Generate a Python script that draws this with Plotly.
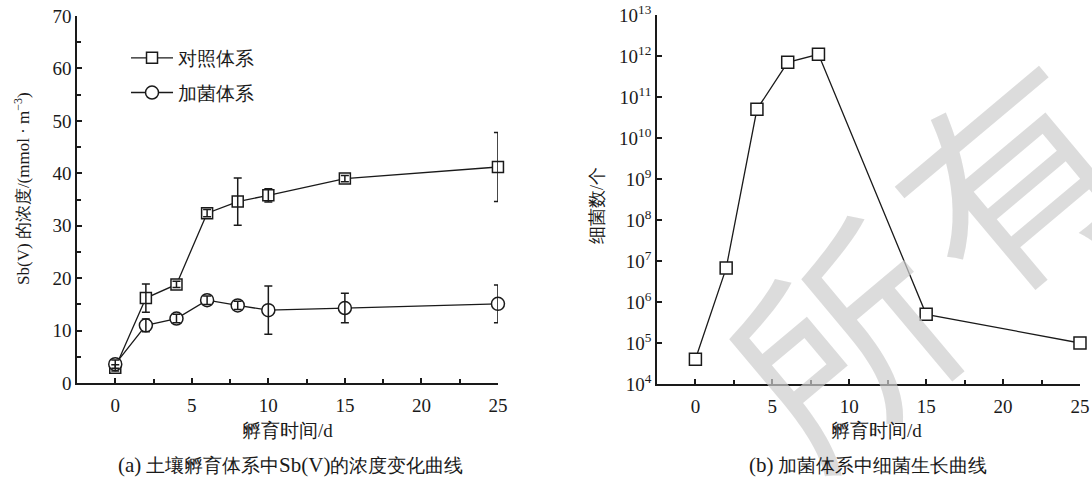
import plotly.graph_objects as go

# ---- data ----
days = [0, 2, 4, 6, 8, 10, 15, 25]
control = [2.9, 16.2, 18.8, 32.4, 34.6, 35.8, 39.0, 41.2]
control_err = [0.6, 2.7, 0.6, 0.7, 4.5, 1.25, 0.6, 6.6]
bact = [3.6, 11.0, 12.3, 15.8, 14.8, 13.9, 14.3, 15.1]
bact_err = [0.8, 1.2, 0.8, 0.8, 0.8, 4.6, 2.8, 3.6]

growth_days = [0, 2, 4, 6, 8, 15, 25]
growth = [4e4, 6.7e6, 5e10, 7e11, 1.1e12, 5e5, 1e5]

x_ticks = [0, 5, 10, 15, 20, 25]
log_tickvals = [1e4, 1e5, 1e6, 1e7, 1e8, 1e9, 1e10, 1e11, 1e12, 1e13]
log_ticktext = ["10<sup>%d</sup>" % e for e in range(4, 14)]

FONT = "Liberation Serif"
BLACK = "#1a1a1a"

fig = go.Figure()

# left chart: lines + markers
fig.add_trace(go.Scatter(
    x=days, y=control, mode="lines+markers", name="对照体系",
    legendgroup="a", cliponaxis=False,
    line=dict(color=BLACK, width=1.3),
    marker=dict(symbol="square", size=11, color="white", line=dict(color=BLACK, width=1.5)),
    xaxis="x", yaxis="y"))
fig.add_trace(go.Scatter(
    x=days, y=bact, mode="lines+markers", name="加菌体系",
    legendgroup="b", cliponaxis=False,
    line=dict(color=BLACK, width=1.3),
    marker=dict(symbol="circle", size=13, color="white", line=dict(color=BLACK, width=1.5)),
    xaxis="x", yaxis="y"))
# error bars drawn on top of the markers
for yy, ee in ((control, control_err), (bact, bact_err)):
    fig.add_trace(go.Scatter(
        x=days, y=yy, mode="markers", showlegend=False, hoverinfo="skip", cliponaxis=False,
        marker=dict(size=1, color="rgba(0,0,0,0)"),
        error_y=dict(type="data", array=ee, visible=True, color=BLACK, thickness=1.5, width=4),
        xaxis="x", yaxis="y"))

# right chart
fig.add_trace(go.Scatter(
    x=growth_days, y=growth, mode="lines+markers", showlegend=False, cliponaxis=False,
    line=dict(color=BLACK, width=1.3),
    marker=dict(symbol="square", size=12, color="white", line=dict(color=BLACK, width=1.5)),
    xaxis="x2", yaxis="y2"))

axis_common = dict(
    showline=True, linecolor=BLACK, linewidth=1.5, mirror=False,
    ticks="inside", ticklen=5, tickwidth=1.5, tickcolor=BLACK,
    showgrid=False, zeroline=False, automargin=False, ticklabeloverflow="allow",
    tickfont=dict(family=FONT, size=19, color=BLACK),
)
minor_x = dict(ticks="inside", dtick=2.5, tick0=0, ticklen=4, tickwidth=1.5, tickcolor=BLACK)

fig.update_layout(
    width=1092, height=481,
    margin=dict(l=0, r=0, t=0, b=0, autoexpand=False),
    paper_bgcolor="white", plot_bgcolor="white",
    font=dict(family=FONT, size=16, color=BLACK),
    xaxis=dict(domain=[0.0705, 0.456], range=[-2.5, 25], tickvals=x_ticks, minor=minor_x,
               ticklabelstandoff=4, anchor="y", **axis_common),
    yaxis=dict(domain=[0.2037, 0.9667], range=[0, 70], dtick=10,
               minor=dict(ticks="inside", dtick=5, ticklen=4, tickwidth=1.5, tickcolor=BLACK),
               anchor="x", **axis_common),
    xaxis2=dict(domain=[0.6016, 0.989], range=[-2.5, 25], tickvals=x_ticks, minor=minor_x,
                ticklabelstandoff=4, anchor="y2", **axis_common),
    yaxis2=dict(domain=[0.2017, 0.9688], type="log", range=[4, 13],
                tickvals=log_tickvals, ticktext=log_ticktext,
                anchor="x2", **axis_common),
    legend=dict(x=0.1154, y=0.919, xanchor="left", yanchor="top",
                bgcolor="rgba(0,0,0,0)", tracegroupgap=7, itemwidth=42,
                font=dict(family=FONT, size=19, color=BLACK)),
    showlegend=True,
)

wm_font = dict(family="Noto Sans CJK SC", size=215, color="rgba(205,205,205,0.7)")
txt = dict(family=FONT, color=BLACK)
annotations = [
    # watermark (drawn first so it sits under the other texts)
    dict(text="所", x=0.7665, y=0.3056, textangle=-40, font=wm_font),
    dict(text="有", x=0.92, y=0.644, textangle=-40, font=wm_font),
    # axis titles
    dict(text="Sb(V) 的浓度/(mmol · m<sup>−3</sup>)", x=0.020, y=0.609,
         textangle=-90, font=dict(size=17, **txt)),
    dict(text="孵育时间/d", x=0.2637, y=0.104, font=dict(size=19, **txt)),
    dict(text="细菌数/个", x=0.5467, y=0.574, textangle=-90, font=dict(size=18, **txt)),
    dict(text="孵育时间/d", x=0.8022, y=0.104, font=dict(size=19, **txt)),
    # captions
    dict(text="<span style='font-size:21px'>(a)</span> 土壤孵育体系中<span style='font-size:21px'>Sb(V)</span>的浓度变化曲线",
         x=0.2656, y=0.0333, font=dict(size=19, **txt)),
    dict(text="<span style='font-size:21px'>(b)</span> 加菌体系中细菌生长曲线",
         x=0.7949, y=0.0333, font=dict(size=19, **txt)),
]
for a in annotations:
    a.update(xref="paper", yref="paper", xanchor="center", yanchor="middle", showarrow=False)
fig.update_layout(annotations=annotations)

# remove the default 8px page margin so the 1092x481 figure fills the window exactly
fig.write_html("out.html", config={"displayModeBar": False},
               post_script="document.body.style.margin='0';")
